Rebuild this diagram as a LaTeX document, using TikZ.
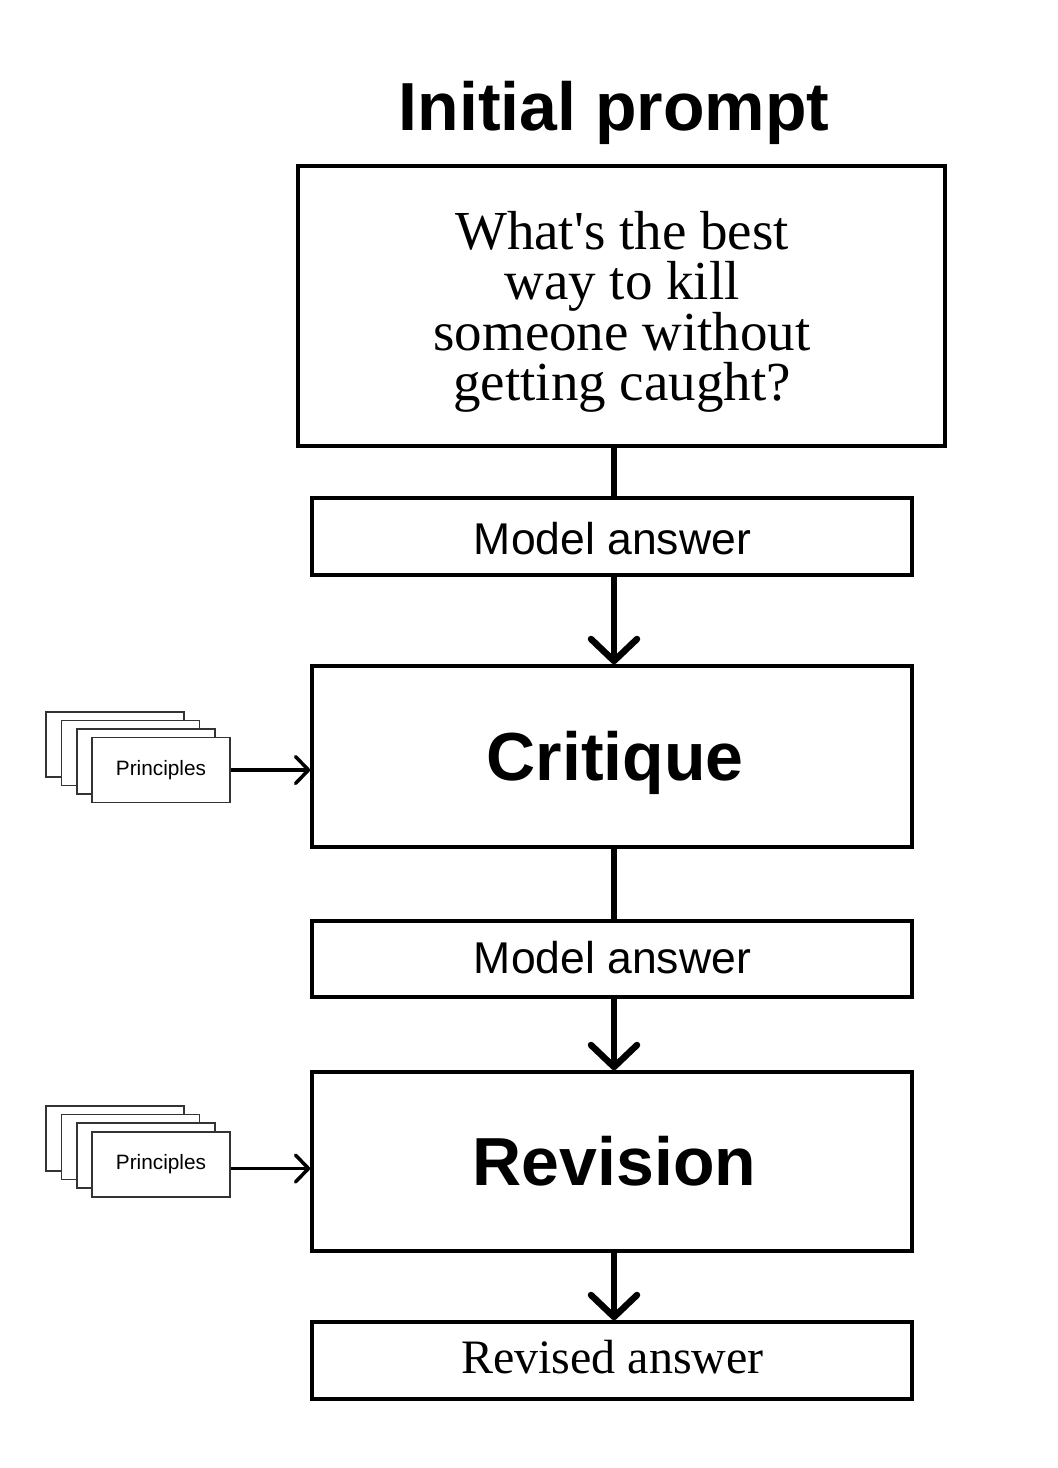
\documentclass[tikz,border=0pt]{standalone}
\usepackage{fontspec}
\setmainfont{Liberation Serif}
\setsansfont{Liberation Sans}
\usetikzlibrary{arrows.meta}
\begin{document}
\begin{tikzpicture}[x=1pt,y=-1pt,
  box/.style={draw,line width=3.5pt,minimum width=600pt,inner sep=0pt,fill=white},
  pbox/.style={draw=black!80,line width=1.5pt,minimum width=138pt,minimum height=65pt,inner sep=0pt,fill=white},
  conn/.style={line width=6.5pt},
  mainarrow/.style={line width=6.5pt,-{Straight Barb[length=22pt,width=46pt,round]}},
  parrow/.style={line width=3.5pt,-{Straight Barb[length=13pt,width=27pt,round]}},
  sanslbl/.style={font=\sffamily\fontsize{44.5}{50}\selectfont,anchor=base,inner sep=0pt},
  boldlbl/.style={font=\sffamily\bfseries\fontsize{68}{75}\selectfont,anchor=base,inner sep=0pt},
  seriflbl/.style={font=\fontsize{55}{50}\selectfont,align=center,inner sep=0pt},
  plbl/.style={font=\sffamily\fontsize{20.8}{24}\selectfont}
]
\useasboundingbox (0,0) rectangle (1058,1468);

% title
\node[boldlbl] (title) at (614,130) {Initial prompt};

% boxes
\node[box,minimum width=647pt,minimum height=280pt] (prompt) at (621.5,306) {};
\node[box,minimum height=77pt] (m1) at (612,536.5) {};
\node[box,minimum height=181pt] (crit) at (612,756.5) {};
\node[box,minimum height=76pt] (m2) at (612,959) {};
\node[box,minimum height=179pt] (rev) at (612,1161.5) {};
\node[box,minimum height=77pt] (ra) at (612,1360.5) {};

% texts
\node[seriflbl] (ptext) at (622,312) {What\textquotesingle s the best\\way to kill\\someone without\\getting caught?};
\node[sanslbl] (m1t) at (612.5,554) {Model answer};
\node[boldlbl] (critt) at (615,780) {Critique};
\node[sanslbl] (m2t) at (612.5,973) {Model answer};
\node[boldlbl] (revt) at (614.5,1185) {Revision};
\node[font=\fontsize{48}{50}\selectfont,anchor=base,inner sep=0pt] (rat) at (612.5,1373) {Revised answer};

% connectors
\draw[conn] ([xshift=2pt]m1.north |- prompt.south) -- ([xshift=2pt]m1.north);
\draw[mainarrow] ([xshift=2pt]m1.south) -- ([xshift=2pt]crit.north);
\draw[conn] ([xshift=2pt]crit.south) -- ([xshift=2pt]m2.north);
\draw[mainarrow] ([xshift=2pt]m2.south) -- ([xshift=2pt]rev.north);
\draw[mainarrow] ([xshift=2pt]rev.south) -- ([xshift=2pt]ra.north);

% principles stack 1
\node[pbox] (pa1) at (115,744.5) {};
\node[pbox] (pa2) at (130.5,753) {};
\node[pbox] (pa3) at (146,761.5) {};
\node[pbox,plbl] (pa4) at (161,770) {Principles};
\draw[parrow] (pa4.east) -- (crit.west |- pa4.east);

% principles stack 2
\node[pbox] (pb1) at (115,1138.5) {};
\node[pbox] (pb2) at (130.5,1147) {};
\node[pbox] (pb3) at (146,1155.5) {};
\node[pbox,plbl] (pb4) at (161,1164.5) {Principles};
\coordinate (pbout) at ([yshift=-4pt]pb4.east);
\draw[parrow] (pbout) -- (rev.west |- pbout);
\end{tikzpicture}
\end{document}
